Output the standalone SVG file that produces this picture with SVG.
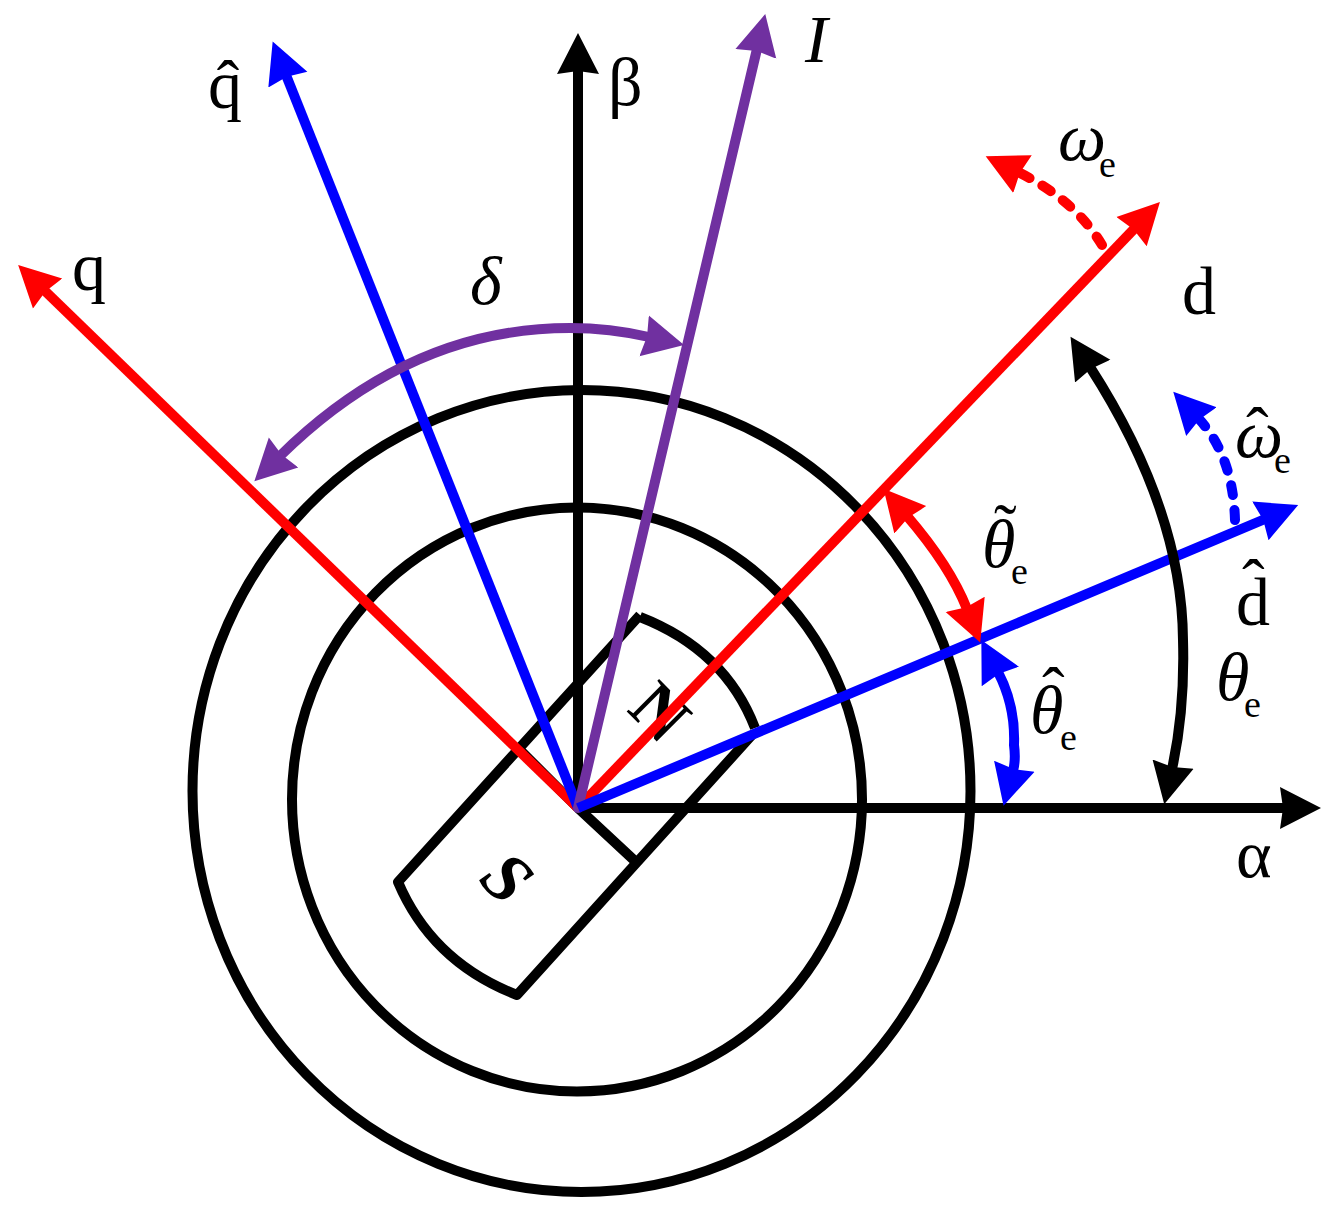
<svg xmlns="http://www.w3.org/2000/svg" width="1336" height="1220" viewBox="0 0 1336 1220">
<style>
.l{fill:none;stroke-width:10}
.k{stroke:#000}.r{stroke:#f00}.b{stroke:#00f}.p{stroke:#7030a0}
.d{stroke-dasharray:10 15;stroke-linecap:round}
text{font-family:"Liberation Serif","Times New Roman",serif;font-size:68px;fill:#000}
.i{font-style:italic}
.h{font-style:normal}
.s{font-size:38px;font-style:normal}
.m{font-weight:bold;font-size:70px}
</style>
<defs>
<marker id="hk" markerUnits="userSpaceOnUse" markerWidth="50" markerHeight="50" refX="5" refY="25" orient="auto-start-reverse"><path d="M0,4L41,25L0,46L3,25z" fill="#000"/></marker>
<marker id="hr" markerUnits="userSpaceOnUse" markerWidth="50" markerHeight="50" refX="5" refY="25" orient="auto-start-reverse"><path d="M0,4L41,25L0,46L3,25z" fill="#f00"/></marker>
<marker id="hb" markerUnits="userSpaceOnUse" markerWidth="50" markerHeight="50" refX="5" refY="25" orient="auto-start-reverse"><path d="M0,4L41,25L0,46L3,25z" fill="#00f"/></marker>
<marker id="hp" markerUnits="userSpaceOnUse" markerWidth="50" markerHeight="50" refX="5" refY="25" orient="auto-start-reverse"><path d="M0,4L41,25L0,46L3,25z" fill="#7030a0"/></marker>
</defs>
<rect width="1336" height="1220" fill="#fff"/>
<g id="stator">
<ellipse class="l k" cx="581.500" cy="791" rx="389" ry="401"/>
<ellipse class="l k" cx="577" cy="799.500" rx="285" ry="292"/>
</g>
<g id="magnet">
<path class="l k" stroke-linejoin="round" d="M578,808L520,750M578,808L636,862M640,615L398,882Q432,962 517,995L752,735M640,617Q725,650 755,728"/>
<text class="m" text-anchor="middle" transform="translate(660,712) rotate(45)" y="23">N</text>
<text class="m i" text-anchor="middle" transform="translate(507,878) rotate(45)" y="23">S</text>
</g>
<g id="connectors">
<path class="l k" marker-end="url(#hk)" d="M578,808H1285"/>
<path class="l k" marker-end="url(#hk)" d="M578,808V69"/>
<path class="l r" marker-end="url(#hr)" d="M578,808L44,290"/>
<path class="l r" marker-end="url(#hr)" d="M578,808L1135,228"/>
<path class="l b" marker-end="url(#hb)" d="M578,808L286,75"/>
<path class="l p" stroke-linecap="round" marker-end="url(#hp)" d="M578,808L757,49"/>
<path class="l b" marker-end="url(#hb)" d="M578,808L1265,519"/>
<path class="l p" marker-start="url(#hp)" marker-end="url(#hp)" d="M280,456Q410,328 570,328Q610,328 649,337"/>
<path class="l k" marker-start="url(#hk)" marker-end="url(#hk)" d="M1090,367Q1182,510 1183,640Q1185,710 1172,769"/>
<path class="l r" marker-start="url(#hr)" marker-end="url(#hr)" d="M907,516Q950,566 967,609"/>
<path class="l b" marker-start="url(#hb)" marker-end="url(#hb)" d="M998,672C1010,695 1015,720 1014,745Q1016,760 1013,771"/>
<path class="l r d" marker-end="url(#hr)" d="M1102,245Q1075,200 1018,172"/>
<path class="l b d" marker-end="url(#hb)" d="M1235,520Q1233,455 1198,418"/>
</g>
<g id="labels">
<text x="72" y="290">q</text>
<text x="208" y="108">q̂</text>
<text x="608" y="105">β</text>
<text class="i" x="805" y="62">I</text>
<text class="i" x="1058" y="160">ω<tspan class="s" x="1099" y="177">e</tspan></text>
<text x="1182" y="314">d</text>
<text class="i" x="470" y="304">δ</text>
<text class="i" x="1235" y="457">ω<tspan class="h" x="1246" y="454">ˆ</tspan><tspan class="s" x="1274" y="473">e</tspan></text>
<text class="i" x="982" y="567">θ<tspan class="h" x="994" y="551">˜</tspan><tspan class="s" x="1011" y="584">e</tspan></text>
<text x="1236" y="625">d<tspan x="1242" y="606">ˆ</tspan></text>
<text class="i" x="1216" y="700">θ<tspan class="s" x="1244" y="717">e</tspan></text>
<text class="i" x="1030" y="733">θ<tspan class="h" x="1042" y="714">ˆ</tspan><tspan class="s" x="1060" y="750">e</tspan></text>
<text x="1236" y="877">α</text>
</g>
</svg>
